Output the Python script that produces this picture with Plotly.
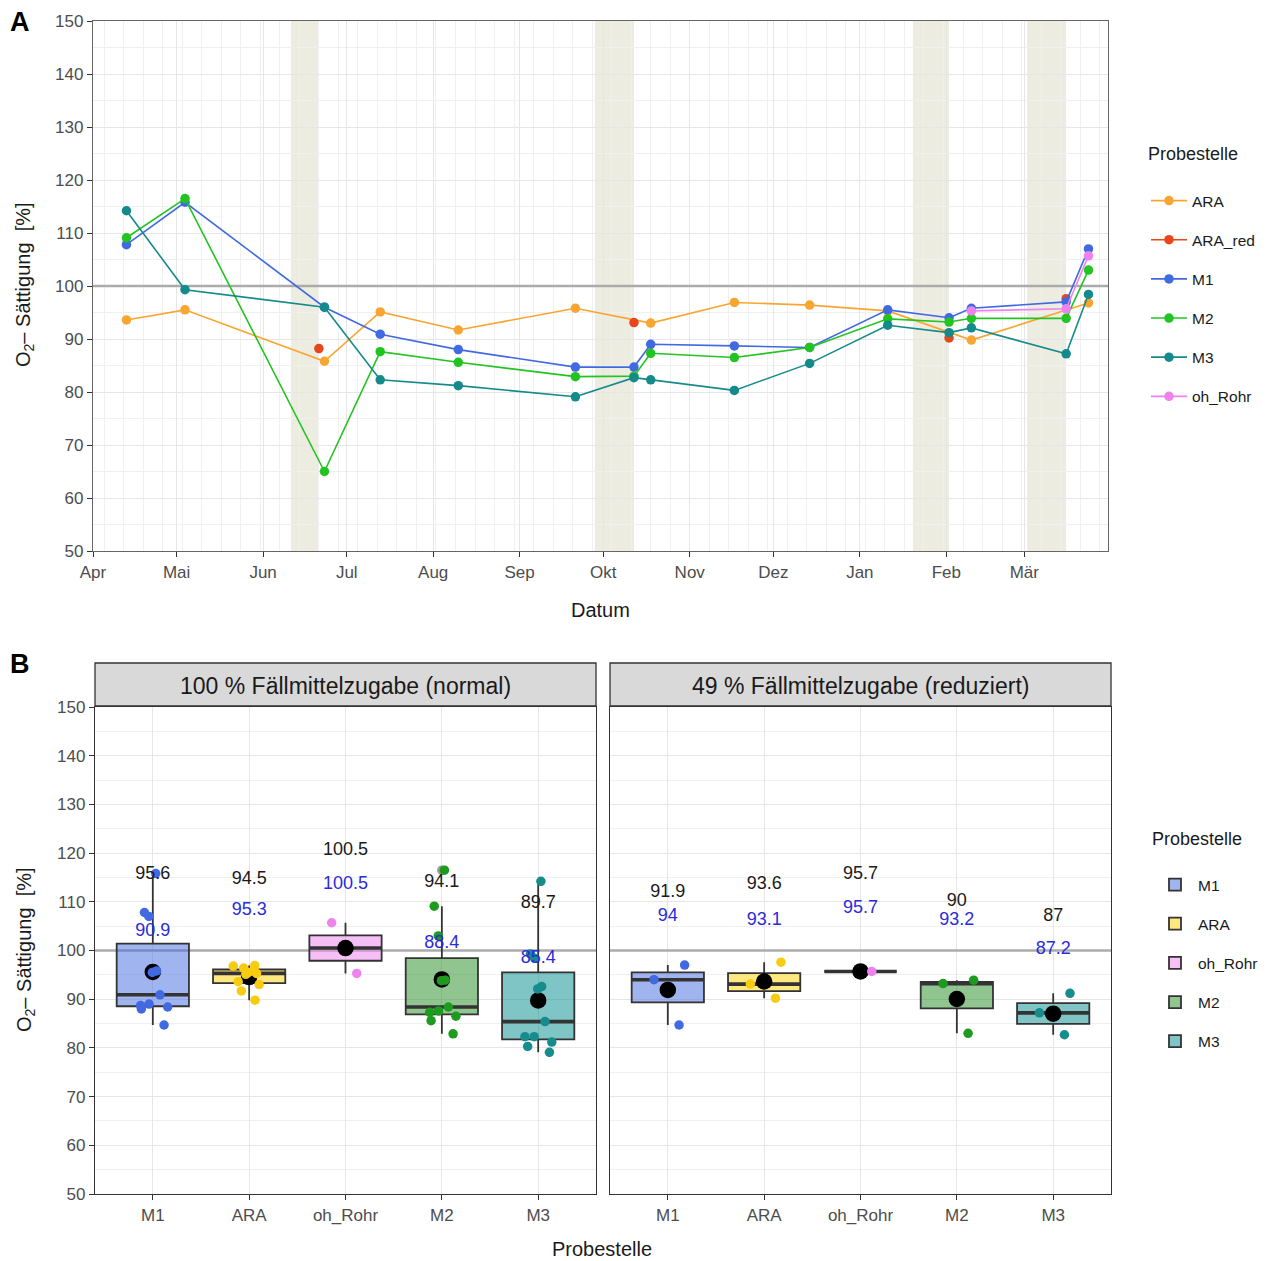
import numpy as np
import pandas as pd
import plotly.graph_objects as go

# page body has an 8px margin: figure covers page pixels 8..1270 / 8..1261
OFF = 8
W, H = 1270 - OFF, 1261 - OFF
def px(x): return (x - OFF) / W
def py(y): return 1 - (y - OFF) / H

FONT = "Liberation Sans, Arial, Helvetica, sans-serif"
TXT = "#1A1A1A"
TICK = "#4D4D4D"

# ---------------- Panel A : time series ----------------
main_dates = ["2021-04-13", "2021-05-04", "2021-06-23", "2021-07-13", "2021-08-10",
              "2021-09-21", "2021-10-12", "2021-10-18", "2021-11-17", "2021-12-14",
              "2022-01-11", "2022-02-02", "2022-02-10", "2022-03-16", "2022-03-24"]
m1_vals = [107.8, 115.8, 96.0, 90.9, 88.0, 84.7, 84.7, 89.0, 88.7, 88.4, 95.5, 94.0, 95.8, 97.0, 107.0]
m2_vals = [109.1, 116.5, 65.0, 87.6, 85.6, 82.9, 83.0, 87.3, 86.5, 88.4, 93.8, 93.2, 93.9, 93.9, 103.0]
m3_vals = [114.2, 99.3, 96.0, 82.3, 81.2, 79.1, 82.7, 82.3, 80.3, 85.4, 92.6, 91.2, 92.1, 87.2, 98.4]

ara_dates = ["2021-04-13", "2021-05-04", "2021-06-23", "2021-07-13", "2021-08-10", "2021-09-21",
             "2021-10-18", "2021-11-17", "2021-12-14", "2022-01-11", "2022-02-10", "2022-03-24"]
ara_vals = [93.6, 95.5, 85.8, 95.1, 91.7, 95.8, 93.0, 96.9, 96.4, 95.3, 89.8, 96.8]

ara_red_dates = ["2021-06-21", "2021-10-12", "2022-02-02", "2022-03-16"]
ara_red_vals = [88.2, 93.1, 90.2, 97.6]

oh_dates = ["2022-02-10", "2022-03-16", "2022-03-24"]
oh_vals = [95.3, 95.7, 105.7]

series_names = ["ARA", "ARA_red", "M1", "M2", "M3", "oh_Rohr"]
series_colors = ["#F9A532", "#E8461B", "#4169E1", "#22C422", "#148A8A", "#EE82EE"]

reduced_start = ["2021-06-11", "2021-09-28", "2022-01-20", "2022-03-02"]
reduced_end = ["2021-06-21", "2021-10-12", "2022-02-02", "2022-03-16"]

date_range = ["2021-04-01", "2022-03-31"]
month_labels = ["Apr", "Mai", "Jun", "Jul", "Aug", "Sep", "Okt", "Nov", "Dez", "Jan", "Feb", "Mär"]
month_ticks = pd.date_range("2021-04-01", "2022-03-01", freq="MS")
week_ticks = pd.date_range("2021-04-05", "2022-03-31", freq="7D")
ref_level = 100

# ---------------- Panel B : boxplots ----------------
categories = ["M1", "ARA", "oh_Rohr", "M2", "M3"]
cat_range = [-0.6, 4.6]
box_fill = ["rgba(65,105,225,0.5)", "rgba(255,210,0,0.5)", "rgba(238,130,238,0.5)",
            "rgba(34,139,34,0.5)", "rgba(0,139,139,0.5)"]
box_point = ["#4169E1", "#F7CB10", "#EE82EE", "#1E9A1E", "#178C8C"]

m1_norm = [107.8, 115.8, 90.9, 88.0, 84.7, 89.0, 88.7, 88.4, 95.5, 95.8, 107.0]
ara_norm = [93.6, 95.5, 95.1, 91.7, 95.8, 93.0, 96.9, 96.4, 95.3, 89.8, 96.8]
oh_norm = [95.3, 105.7]
m2_norm = [109.1, 116.5, 87.6, 85.6, 82.9, 87.3, 86.5, 88.4, 93.8, 93.9, 103.0]
m3_norm = [114.2, 99.3, 82.3, 81.2, 79.1, 82.3, 80.3, 85.4, 92.6, 92.1, 98.4]

m1_red = [84.7, 94.0, 97.0]
ara_red = [93.1, 90.2, 97.6]
oh_red = [95.7]
m2_red = [83.0, 93.2, 93.9]
m3_red = [82.7, 91.2, 87.2]

panel_titles = ["100 % Fällmittelzugabe (normal)", "49 % Fällmittelzugabe (reduziert)"]
panel_data = [[m1_norm, ara_norm, oh_norm, m2_norm, m3_norm],
              [m1_red, ara_red, oh_red, m2_red, m3_red]]


def fmt(v):
    s = f"{v:.1f}"
    return s[:-2] if s.endswith(".0") else s


def point_box(cat, vals, color, size, jitter, xa, ya):
    """Box trace that only shows its sample points (box itself invisible)."""
    return go.Box(
        x=[cat] * len(vals), y=vals, boxpoints="all", jitter=jitter, pointpos=0,
        width=0.75, fillcolor="rgba(0,0,0,0)",
        line=dict(color="rgba(0,0,0,0)", width=0),
        marker=dict(color=color, size=size), showlegend=False, hoverinfo="skip",
        xaxis=xa, yaxis=ya)


fig = go.Figure()

# ---- top traces
top_x = [ara_dates, ara_red_dates, main_dates, main_dates, main_dates, oh_dates]
top_y = [ara_vals, ara_red_vals, m1_vals, m2_vals, m3_vals, oh_vals]
for name, col, xs, ys in zip(series_names, series_colors, top_x, top_y):
    if name == "ARA_red":
        xx, yy = [], []
        for a, b in zip(xs, ys):
            xx += [a, None]
            yy += [b, None]
        xs, ys = xx, yy
    fig.add_trace(go.Scatter(
        x=xs, y=ys, mode="lines+markers", name=name, legendgroup=name,
        line=dict(color=col, width=1.6), marker=dict(color=col, size=9.5),
        xaxis="x", yaxis="y", legend="legend", connectgaps=False))

# ---- bottom traces
axes_b = [("x2", "y2"), ("x3", "y3")]
for p, groups in enumerate(panel_data):
    xa, ya = axes_b[p]
    means, meds, outs = [], [], []
    for cat, vals, fill in zip(categories, groups, box_fill):
        v = np.array(vals, dtype=float)
        q1, med, q3 = np.percentile(v, [25, 50, 75])
        iqr = q3 - q1
        inside = v[(v >= q1 - 1.5 * iqr) & (v <= q3 + 1.5 * iqr)]
        lf, uf = inside.min(), inside.max()
        outs.append(list(v[(v < q1 - 1.5 * iqr) | (v > q3 + 1.5 * iqr)]))
        means.append(v.mean())
        meds.append(med)
        fig.add_trace(go.Box(
            x=[cat], q1=[q1], median=[med], q3=[q3], lowerfence=[lf], upperfence=[uf],
            name=cat, fillcolor=fill, line=dict(color="#333333", width=1.8),
            whiskerwidth=0, width=0.75, boxpoints=False, hoverinfo="skip",
            showlegend=(p == 0), legend="legend2", legendgroup="b_" + cat,
            xaxis=xa, yaxis=ya))
        # thicker median bar (ggplot fatten)
        fig.add_trace(go.Box(
            x=[cat], q1=[med], median=[med], q3=[med], lowerfence=[med], upperfence=[med],
            fillcolor="rgba(0,0,0,0)", line=dict(color="#333333", width=3.6),
            whiskerwidth=0, width=0.75, boxpoints=False, hoverinfo="skip",
            showlegend=False, xaxis=xa, yaxis=ya))
    # outliers (grey), mean dots (black), then jittered samples
    for cat, o in zip(categories, outs):
        if o:
            fig.add_trace(point_box(cat, o, "#9A9A9A", 9.5, 0, xa, ya))
    for cat, m in zip(categories, means):
        fig.add_trace(point_box(cat, [m], "black", 16.5, 0, xa, ya))
    for cat, vals, col in zip(categories, groups, box_point):
        fig.add_trace(point_box(cat, vals, col, 9.5, 0.6, xa, ya))
    fig.add_trace(go.Scatter(
        x=categories, y=[m + 20 for m in means], mode="text",
        text=[fmt(m) for m in means], textfont=dict(size=18, color=TXT, family=FONT),
        showlegend=False, xaxis=xa, yaxis=ya, hoverinfo="skip"))
    fig.add_trace(go.Scatter(
        x=categories, y=[m + 13 for m in meds], mode="text",
        text=[fmt(m) for m in meds], textfont=dict(size=18, color="#2B2BDB", family=FONT),
        showlegend=False, xaxis=xa, yaxis=ya, hoverinfo="skip"))

# ---- shapes
shapes = []
for s, e in zip(reduced_start, reduced_end):
    shapes.append(dict(type="rect", xref="x", yref="y domain", x0=s, x1=e, y0=0, y1=1,
                       fillcolor="#EDECE1", line=dict(width=0), layer="below"))
shapes.append(dict(type="line", xref="x", yref="y", x0=date_range[0], x1=date_range[1],
                   y0=ref_level, y1=ref_level,
                   line=dict(color="#ABABAB", width=2.4), layer="between"))
for xa, ya in axes_b:
    shapes.append(dict(type="line", xref=xa, yref=ya, x0=cat_range[0], x1=cat_range[1],
                       y0=ref_level, y1=ref_level,
                       line=dict(color="#ABABAB", width=2.4), layer="between"))

strip_x = [(95, 596), (610, 1111)]
annotations = []
for (x0, x1), title in zip(strip_x, panel_titles):
    shapes.append(dict(type="rect", xref="paper", yref="paper", x0=px(x0), x1=px(x1),
                       y0=py(706), y1=py(663), fillcolor="#D9D9D9",
                       line=dict(color="#333333", width=1.3), layer="above"))
    annotations.append(dict(text=title, x=px((x0 + x1) / 2), y=py(686), xref="paper", yref="paper",
                            showarrow=False, font=dict(size=23, color=TXT, family=FONT),
                            xanchor="center", yanchor="middle"))

ytitle = "O<sub>2</sub>– Sättigung  [%]"
extra = [
    dict(text="<b>A</b>", x=px(20), y=py(22), xanchor="center", font=dict(size=27, color="black", family=FONT)),
    dict(text="<b>B</b>", x=px(20), y=py(664), xanchor="center", font=dict(size=27, color="black", family=FONT)),
    dict(text="Datum", x=px(600), y=py(610), xanchor="center", font=dict(size=20, color=TXT, family=FONT)),
    dict(text="Probestelle", x=px(602), y=py(1249), xanchor="center", font=dict(size=20, color=TXT, family=FONT)),
    dict(text=ytitle, x=px(25), y=py(285), xanchor="center", textangle=-90, font=dict(size=20, color=TXT, family=FONT)),
    dict(text=ytitle, x=px(25), y=py(950), xanchor="center", textangle=-90, font=dict(size=20, color=TXT, family=FONT)),
    dict(text="Probestelle", x=px(1146), y=py(154), xanchor="left", font=dict(size=18, color=TXT, family=FONT)),
    dict(text="Probestelle", x=px(1150), y=py(839), xanchor="left", font=dict(size=18, color=TXT, family=FONT)),
]
for a in extra:
    a.update(xref="paper", yref="paper", showarrow=False, yanchor="middle")
annotations += extra

grid_major = "#E6E6E6"
grid_minor = "#F0F0F0"

common_axis = dict(ticks="outside", ticklen=5, tickwidth=1.2, tickcolor="#333333",
                   tickfont=dict(size=17, color=TICK, family=FONT), showline=True,
                   mirror=True, zeroline=False, automargin=False, showgrid=True,
                   gridcolor=grid_major, gridwidth=1.2)

fig.update_layout(
    width=W, height=H, margin=dict(l=0, r=0, t=0, b=0),
    paper_bgcolor="white", plot_bgcolor="white",
    font=dict(family=FONT, color=TXT),
    boxmode="overlay",
    shapes=shapes, annotations=annotations,
    xaxis=dict(domain=[px(93), px(1108)], anchor="y", type="date",
               range=date_range, tickmode="array",
               tickvals=list(month_ticks), ticktext=month_labels,
               linecolor="#666666", linewidth=1.3,
               minor=dict(tickmode="array", tickvals=list(week_ticks), showgrid=True,
                          gridcolor=grid_minor, gridwidth=1, ticks=""),
               **common_axis),
    yaxis=dict(domain=[py(551), py(21)], anchor="x", range=[50, 150], dtick=10,
               linecolor="#666666", linewidth=1.3,
               minor=dict(dtick=5, showgrid=True, gridcolor=grid_minor, gridwidth=1, ticks=""),
               **common_axis),
    xaxis2=dict(domain=[px(95), px(596)], anchor="y2", type="category",
                categoryorder="array", categoryarray=categories, range=cat_range,
                linecolor="#333333", linewidth=1.3, **common_axis),
    yaxis2=dict(domain=[py(1194), py(707)], anchor="x2", range=[50, 150], dtick=10,
                linecolor="#333333", linewidth=1.3,
                minor=dict(dtick=5, showgrid=True, gridcolor=grid_minor, gridwidth=1, ticks=""),
                **common_axis),
    xaxis3=dict(domain=[px(610), px(1111)], anchor="y3", type="category",
                categoryorder="array", categoryarray=categories, range=cat_range,
                linecolor="#333333", linewidth=1.3, **common_axis),
    yaxis3=dict(domain=[py(1194), py(707)], anchor="x3", range=[50, 150], dtick=10,
                linecolor="#333333", linewidth=1.3,
                minor=dict(dtick=5, showgrid=True, gridcolor=grid_minor, gridwidth=1, ticks=""),
                **{**common_axis, "ticks": "", "showticklabels": False}),
    legend=dict(font=dict(size=15.5, color=TXT, family=FONT), x=px(1146), y=py(184),
                xanchor="left", yanchor="top", bgcolor="rgba(0,0,0,0)", tracegroupgap=16,
                itemwidth=36),
    legend2=dict(font=dict(size=15.5, color=TXT, family=FONT), x=px(1152), y=py(868),
                 xanchor="left", yanchor="top", bgcolor="rgba(0,0,0,0)", tracegroupgap=16,
                 itemwidth=36),
)

fig.write_html("out.html")
